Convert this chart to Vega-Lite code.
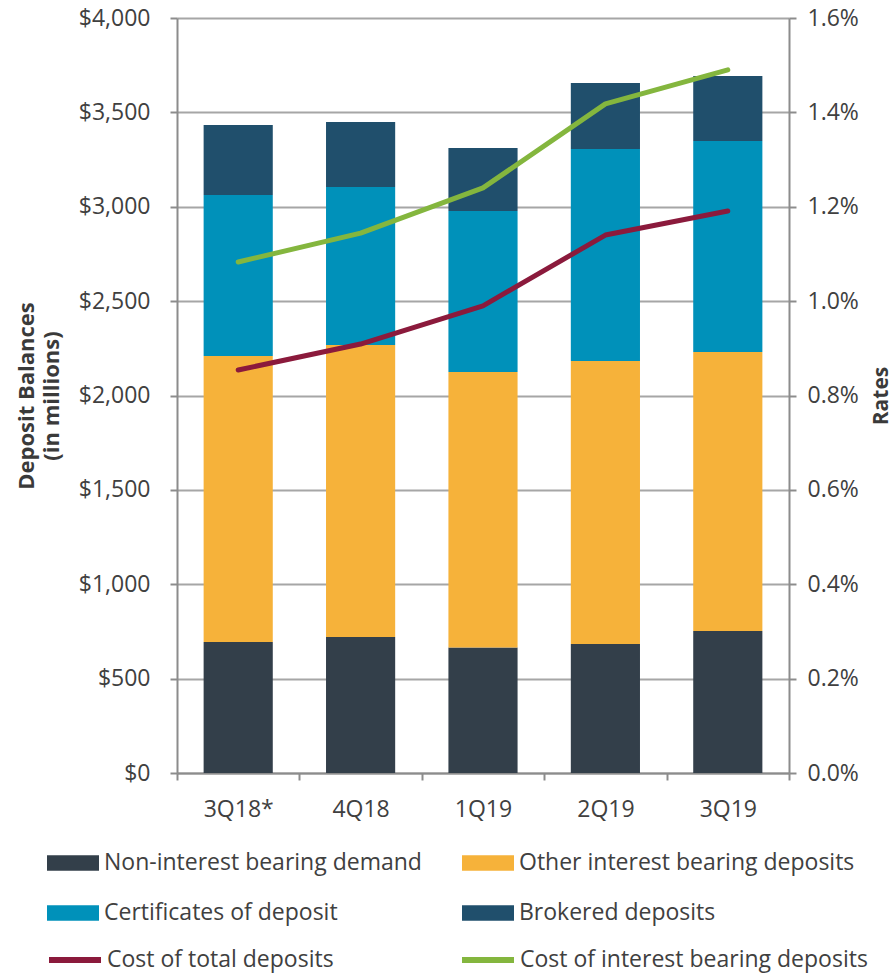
{
  "$schema": "https://vega.github.io/schema/vega-lite/v6.json",
  "width": 612,
  "height": 755,
  "autosize": {"type": "none"},
  "padding": {"left": 177, "top": 18, "right": 107, "bottom": 200},
  "config": {
    "font": "Open Sans",
    "view": {"stroke": null},
    "axis": {
      "labelFontSize": 23,
      "labelColor": "#404040",
      "labelFont": "Open Sans",
      "domainColor": "#8c8c8c",
      "domainWidth": 2,
      "tickColor": "#8c8c8c",
      "tickWidth": 2,
      "tickSize": 7,
      "gridColor": "#a6a6a6",
      "gridWidth": 2,
      "titleColor": "#3a3a3a",
      "titleFontSize": 22,
      "titleFontWeight": "bold",
      "titleFont": "Open Sans"
    }
  },
  "datasets": {
    "bars": [
      {"quarter": "3Q18*", "type": "Non-interest bearing demand", "value": 694},
      {"quarter": "3Q18*", "type": "Other interest bearing deposits", "value": 1515},
      {"quarter": "3Q18*", "type": "Certificates of deposit", "value": 853},
      {"quarter": "3Q18*", "type": "Brokered deposits", "value": 371},
      {"quarter": "4Q18", "type": "Non-interest bearing demand", "value": 720},
      {"quarter": "4Q18", "type": "Other interest bearing deposits", "value": 1548},
      {"quarter": "4Q18", "type": "Certificates of deposit", "value": 837},
      {"quarter": "4Q18", "type": "Brokered deposits", "value": 344},
      {"quarter": "1Q19", "type": "Non-interest bearing demand", "value": 665},
      {"quarter": "1Q19", "type": "Other interest bearing deposits", "value": 1460},
      {"quarter": "1Q19", "type": "Certificates of deposit", "value": 852},
      {"quarter": "1Q19", "type": "Brokered deposits", "value": 334},
      {"quarter": "2Q19", "type": "Non-interest bearing demand", "value": 683},
      {"quarter": "2Q19", "type": "Other interest bearing deposits", "value": 1500},
      {"quarter": "2Q19", "type": "Certificates of deposit", "value": 1123},
      {"quarter": "2Q19", "type": "Brokered deposits", "value": 350},
      {"quarter": "3Q19", "type": "Non-interest bearing demand", "value": 752},
      {"quarter": "3Q19", "type": "Other interest bearing deposits", "value": 1478},
      {"quarter": "3Q19", "type": "Certificates of deposit", "value": 1118},
      {"quarter": "3Q19", "type": "Brokered deposits", "value": 345}
    ],
    "rates": [
      {"quarter": "3Q18*", "series": "Cost of total deposits", "rate": 0.00854},
      {"quarter": "4Q18", "series": "Cost of total deposits", "rate": 0.00909},
      {"quarter": "1Q19", "series": "Cost of total deposits", "rate": 0.0099},
      {"quarter": "2Q19", "series": "Cost of total deposits", "rate": 0.0114},
      {"quarter": "3Q19", "series": "Cost of total deposits", "rate": 0.01191},
      {"quarter": "3Q18*", "series": "Cost of interest bearing deposits", "rate": 0.01083},
      {"quarter": "4Q18", "series": "Cost of interest bearing deposits", "rate": 0.01144},
      {"quarter": "1Q19", "series": "Cost of interest bearing deposits", "rate": 0.0124},
      {"quarter": "2Q19", "series": "Cost of interest bearing deposits", "rate": 0.01418},
      {"quarter": "3Q19", "series": "Cost of interest bearing deposits", "rate": 0.0149}
    ]
  },
  "layer": [
    {
      "data": {"name": "bars"},
      "transform": [
        {"calculate": "indexof(['Non-interest bearing demand','Other interest bearing deposits','Certificates of deposit','Brokered deposits'], datum.type)", "as": "stackOrder"}
      ],
      "mark": {"type": "bar", "width": {"band": 0.565}},
      "encoding": {
        "x": {
          "field": "quarter",
          "type": "nominal",
          "sort": ["3Q18*", "4Q18", "1Q19", "2Q19", "3Q19"],
          "scale": {"paddingInner": 0, "paddingOuter": 0},
          "axis": {"title": null, "labelAngle": 0, "tickBand": "extent", "labelPadding": 18, "grid": false}
        },
        "y": {
          "field": "value",
          "type": "quantitative",
          "stack": "zero",
          "scale": {"domain": [0, 4000]},
          "axis": {
            "orient": "left",
            "values": [0, 500, 1000, 1500, 2000, 2500, 3000, 3500, 4000],
            "format": "$,.0f",
            "labelPadding": 20,
            "title": ["Deposit Balances", "(in millions)"],
            "titlePadding": 15,
            "titleLineHeight": 25
          }
        },
        "order": {"field": "stackOrder", "type": "quantitative", "sort": "ascending"},
        "color": {
          "field": "type",
          "type": "nominal",
          "scale": {
            "domain": ["Non-interest bearing demand", "Other interest bearing deposits", "Certificates of deposit", "Brokered deposits"],
            "range": ["#333f4a", "#f6b23a", "#0091ba", "#204f6c"]
          },
          "legend": {
            "orient": "none",
            "direction": "horizontal",
            "legendX": -130,
            "legendY": 819,
            "columns": 2,
            "title": null,
            "symbolType": "M-1,-0.3H1V0.3H-1Z",
            "symbolSize": 2704,
            "symbolStrokeWidth": 0,
            "labelFontSize": 23,
            "labelColor": "#404040",
            "labelFont": "Open Sans",
            "labelOffset": 5,
            "labelLimit": 500,
            "columnPadding": 40,
            "rowPadding": 12
          }
        }
      }
    },
    {
      "data": {"name": "rates"},
      "mark": {"type": "line", "strokeWidth": 5, "strokeCap": "round", "strokeJoin": "round"},
      "encoding": {
        "x": {"field": "quarter", "type": "nominal", "sort": ["3Q18*", "4Q18", "1Q19", "2Q19", "3Q19"]},
        "y": {
          "field": "rate",
          "type": "quantitative",
          "scale": {"domain": [0, 0.016]},
          "axis": {
            "orient": "right",
            "values": [0, 0.002, 0.004, 0.006, 0.008, 0.01, 0.012, 0.014, 0.016],
            "format": ".1%",
            "grid": false,
            "labelPadding": 11,
            "title": "Rates",
            "titleAngle": 270,
            "titleFontSize": 21,
            "titlePadding": 33
          }
        },
        "stroke": {
          "field": "series",
          "type": "nominal",
          "scale": {
            "domain": ["Cost of total deposits", "Cost of interest bearing deposits"],
            "range": ["#8b1a3c", "#84b63e"]
          },
          "legend": {
            "orient": "none",
            "direction": "horizontal",
            "legendX": -131,
            "legendY": 913,
            "columns": 2,
            "title": null,
            "symbolType": "stroke",
            "symbolSize": 2704,
            "symbolStrokeWidth": 6,
            "labelFontSize": 23,
            "labelColor": "#404040",
            "labelFont": "Open Sans",
            "labelOffset": 3,
            "labelLimit": 500,
            "columnPadding": 116
          }
        }
      }
    }
  ],
  "resolve": {"scale": {"y": "independent"}}
}
